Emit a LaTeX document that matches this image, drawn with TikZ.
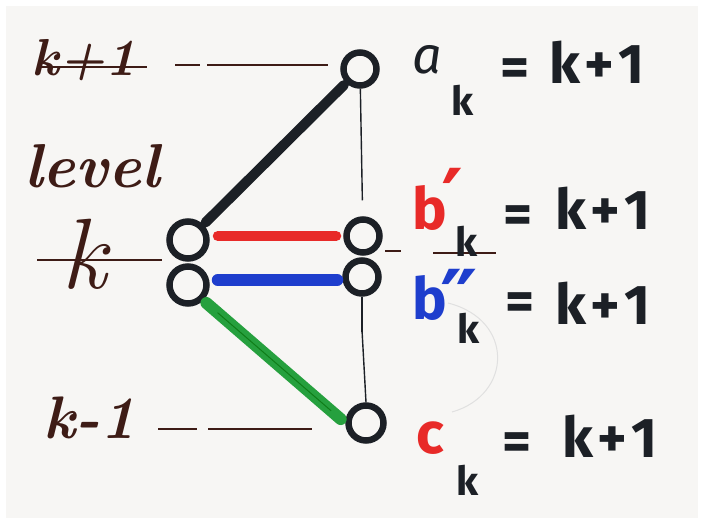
\documentclass[tikz,border=0pt]{standalone}
\usepackage{fontspec}
\usetikzlibrary{calc}
\newfontfamily\hand{Fira Sans}
\newfontfamily\sym{DejaVu Sans}
\newcommand{\bigprime}[1]{{\sym\bfseries\fontsize{84}{84}\selectfont #1}}
\definecolor{paper}{RGB}{247,246,244}
\definecolor{ink}{RGB}{28,32,38}
\definecolor{brownink}{RGB}{62,28,22}
\definecolor{redink}{RGB}{232,42,40}
\definecolor{blueink}{RGB}{30,62,205}
\definecolor{greenink}{RGB}{38,160,62}
\begin{document}
\begin{tikzpicture}[x=1pt,y=-1pt,
  ring/.style={circle,draw=ink,line width=6.5pt,inner sep=0pt},
  bigring/.style={ring,minimum size=37pt},
  smallring/.style={ring,minimum size=33pt},
  edgeline/.style={line width=10pt,line cap=round},
  thin/.style={draw=ink,line width=1.4pt},
  level/.style={draw=brownink,line width=1.6pt},
  lefttxt/.style={text=brownink,inner sep=0pt,font=\bfseries\itshape\fontsize{52}{52}\selectfont},
  eqtxt/.style={text=ink,inner sep=0pt,font=\hand\bfseries\fontsize{56}{56}\selectfont},
  subtxt/.style={text=ink,inner sep=0pt,font=\hand\bfseries\fontsize{40}{40}\selectfont},
  lettxt/.style={inner sep=0pt,font=\hand\bfseries\fontsize{58}{58}\selectfont}]
\useasboundingbox (0,0) rectangle (704,524);
\fill[white] (0,0) rectangle (704,524);
\fill[paper] (6,6) rectangle (698,518);

% level lines
\draw[level] (40,67) -- (147,67);
\draw[level] (175,65) -- (200,65);
\draw[level] (207,65) -- (328,65);
\draw[level] (37,260) -- (162,260);
\draw[level] (385,251) -- (401,251);
\draw[level] (433,253) -- (496,253);
\draw[level] (158,429) -- (197,429);
\draw[level] (208,429) -- (312,429);

% left labels
\node[lefttxt] (lkp) at (84,60) {k+1};
\node[lefttxt,font=\bfseries\itshape\fontsize{62}{62}\selectfont] (llev) at (92,166) {level};
\node[lefttxt,font=\itshape\fontsize{100}{100}\selectfont] (lk) at (84,254) {k};
\node[lefttxt,font=\bfseries\itshape\fontsize{60}{60}\selectfont] (lkm) at (90,418) {k-1};

% vertices
\node[bigring] (L1) at (188,240) {};
\node[bigring] (L2) at (188,285) {};
\node[smallring] (a) at (360,69) {};
\node[smallring] (bp) at (363,236) {};
\node[smallring] (bpp) at (362,277) {};
\node[smallring,minimum size=35pt] (c) at (366,423) {};

% thin verticals
\draw[thin,shorten >=16pt] (a) -- (bp);
\draw[thin] (bpp.south) -- ([yshift=-2pt]bpp.south |- 0,330);
\draw[thin] ([yshift=3pt]bpp.south |- 0,333) -- (c.north);

% coloured edges
\draw[edgeline,draw=ink,shorten <=3pt,shorten >=3pt] (L1.north east) -- (a.south west);
\draw[edgeline,draw=redink,shorten <=8pt,shorten >=7pt] (bp.west -| L1.east) -- (bp.west);
\draw[edgeline,draw=blueink,line width=12pt,shorten <=8pt,shorten >=5pt] ([yshift=-3pt]bpp.west -| L2.east) -- ([yshift=-3pt]bpp.west);
\draw[edgeline,draw=greenink,line width=12pt,shorten <=4pt,shorten >=6pt] (L2.south east) -- (c.west);
\draw[draw=green!40!black,line width=1pt,opacity=0.6] ($(L2.south east)!0.1!(c.west)$) -- ($(L2.south east)!0.9!(c.west)$);

% faint pencil arc
\draw[draw=black!12,line width=1pt] (448,303) .. controls (515,320) and (512,395) .. (452,412);

% right labels
\node[lettxt,text=ink,font=\hand\fontsize{52}{52}\selectfont\itshape] (la) at (427,60) {a};
\node[subtxt] (lak) at (463,100) {k};
\node[eqtxt] (lae) at (515,73) {=};
\node[eqtxt] (lar) at (597,62) {k\kern4pt+\kern4pt1};

\node[lettxt,text=redink,anchor=base west] (lb1) at (412,229) {b\kern-5pt\bigprime{′}};
\node[subtxt] (lb1k) at (467,241) {k};
\node[eqtxt] (lb1e) at (518,220) {=};
\node[eqtxt] (lb1r) at (603,208) {k\kern4pt+\kern4pt1};

\node[lettxt,text=blueink,anchor=base west] (lb2) at (412,319) {b\kern-6pt\raisebox{-11pt}{\bigprime{″}}};
\node[subtxt] (lb2k) at (469,328) {k};
\node[eqtxt] (lb2e) at (520,307) {=};
\node[eqtxt] (lb2r) at (603,303) {k\kern4pt+\kern4pt1};

\node[lettxt,text=redink] (lc) at (430,438) {c};
\node[subtxt] (lck) at (468,480) {k};
\node[eqtxt] (lce) at (517,447) {=};
\node[eqtxt] (lcr) at (610,436) {k\kern4pt+\kern4pt1};
\end{tikzpicture}
\end{document}
